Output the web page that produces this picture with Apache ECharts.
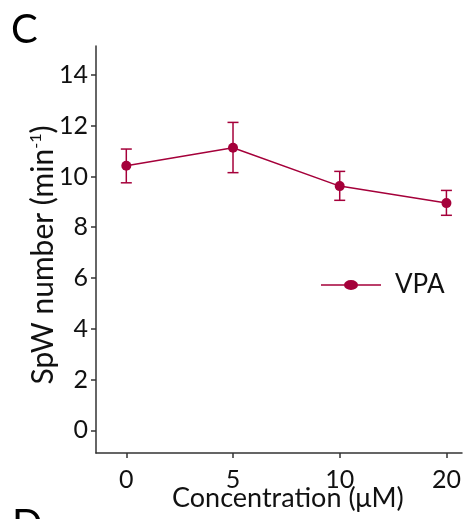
<!DOCTYPE html>
<html>
<head>
<meta charset="utf-8">
<script src="https://cdn.jsdelivr.net/npm/echarts@6/dist/echarts.min.js"></script>
<style>
  html, body { margin: 0; padding: 0; background: #fff; }
  #chart { width: 468px; height: 519px; }
</style>
</head>
<body>
<div id="chart"></div>
<script>
// 浓度分组（x 轴标签）
const categories = ['0', '5', '10', '20']
// 平均值与误差范围
const meanValues = [10.42, 11.13, 9.62, 8.95]
const upperValues = [11.08, 12.13, 10.20, 9.45]
const lowerValues = [9.75, 10.15, 9.06, 8.47]
const yTicks = [0, 2, 4, 6, 8, 10, 12, 14]

const mainColor = '#a5003a'
const fontFamily = 'Lato, "Open Sans", sans-serif'

const xIndex = categories.map((c, i) => i)
const lineData = meanValues.map((v, i) => [i, v])
const errorData = meanValues.map((v, i) => [i, lowerValues[i], upperValues[i]])

// 图例图标：横线 + 椭圆点
const legendIcon = 'path://M0,4.3L60,4.3L60,5.7L0,5.7Z M23,5A7,5,0,1,1,37,5A7,5,0,1,1,23,5Z'

const chart = echarts.init(document.getElementById('chart'))

chart.setOption({
  backgroundColor: '#fff',
  animation: false,
  textStyle: { fontFamily },
  grid: { left: 96, right: 6, top: 46, bottom: 66 },
  legend: {
    left: 316,
    top: 267,
    itemWidth: 60,
    itemHeight: 10,
    icon: legendIcon,
    textStyle: { fontSize: 26, color: '#111', fontFamily, padding: [0, 0, 0, 9] },
    data: ['VPA']
  },
  xAxis: {
    type: 'value',
    min: -0.284,
    max: 3.146,
    splitLine: { show: false },
    axisLine: { onZero: false, lineStyle: { color: '#333', width: 1.5 } },
    axisTick: { customValues: xIndex, length: 5, lineStyle: { color: '#333', width: 1.5 } },
    axisLabel: {
      customValues: xIndex,
      formatter: (v) => categories[Math.round(v)],
      fontSize: 25,
      color: '#111',
      margin: 14,
      fontFamily
    }
  },
  yAxis: {
    type: 'value',
    min: -0.895,
    max: 15.14,
    splitLine: { show: false },
    axisLine: { show: true, onZero: false, lineStyle: { color: '#333', width: 1.5 } },
    axisTick: { show: true, customValues: yTicks, length: 5, lineStyle: { color: '#333', width: 1.5 } },
    axisLabel: { customValues: yTicks, fontSize: 25, color: '#111', margin: 8, fontFamily }
  },
  graphic: [
    { type: 'text', left: 11, top: 10, style: { text: 'C', fontSize: 40, fill: '#000', fontFamily } },
    { type: 'text', left: 12, top: 505, style: { text: 'D', fontSize: 40, fill: '#000', fontFamily } },
    { type: 'text', left: 172, top: 485, style: { text: 'Concentration (μM)', fontSize: 27, fill: '#111', fontFamily } },
    {
      type: 'text',
      x: 43,
      y: 255,
      rotation: Math.PI / 2,
      style: {
        text: '{n|SpW number (min}{s|-1}{n|)}',
        align: 'center',
        verticalAlign: 'middle',
        rich: {
          n: { fontSize: 30, fill: '#111', fontFamily },
          s: { fontSize: 16, fill: '#111', fontFamily, verticalAlign: 'top', padding: [0, 0, 13, 0] }
        }
      }
    }
  ],
  series: [
    {
      name: 'VPA',
      type: 'line',
      data: lineData,
      symbol: 'circle',
      symbolSize: 10,
      itemStyle: { color: mainColor },
      lineStyle: { color: mainColor, width: 1.5 },
      z: 3
    },
    {
      name: 'error',
      type: 'custom',
      data: errorData,
      z: 2,
      renderItem: (params, api) => {
        const x = api.value(0)
        const low = api.coord([x, api.value(1)])
        const high = api.coord([x, api.value(2)])
        const half = 5.5
        const style = { stroke: mainColor, lineWidth: 1.5 }
        return {
          type: 'group',
          children: [
            { type: 'line', shape: { x1: low[0], y1: low[1], x2: high[0], y2: high[1] }, style },
            { type: 'line', shape: { x1: low[0] - half, y1: low[1], x2: low[0] + half, y2: low[1] }, style },
            { type: 'line', shape: { x1: high[0] - half, y1: high[1], x2: high[0] + half, y2: high[1] }, style }
          ]
        }
      }
    }
  ]
})
</script>
</body>
</html>
